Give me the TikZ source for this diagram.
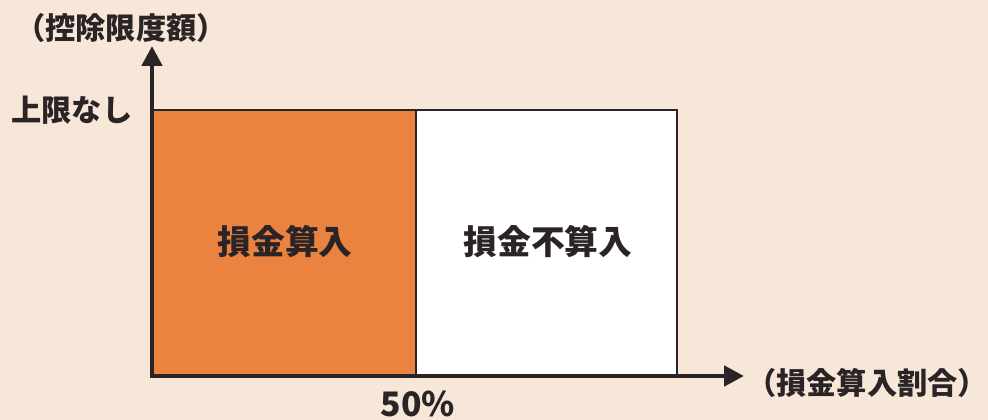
\documentclass[tikz,border=0pt]{standalone}
\usepackage{fontspec}
\setmainfont{Noto Sans CJK JP}
\newfontfamily\heavyfont{Noto Sans CJK JP Black}
\usetikzlibrary{arrows.meta}
\definecolor{bgbeige}{HTML}{F6E7D8}
\definecolor{sonkin}{HTML}{EA8240}
\definecolor{inkgray}{HTML}{2A2426}

\tikzset{
  axisline/.style={line width=3.4pt, draw=inkgray, line cap=rect,
    -{Triangle[width=0.5cm, length=0.5cm]}},
  areabox/.style={draw=inkgray, line width=1.3pt},
  bigtext/.style={text=inkgray, inner sep=0pt, font=\heavyfont\fontsize{21.5pt}{25pt}\selectfont}
}

\begin{document}
\begin{tikzpicture}[x=0.025cm, y=0.025cm]
        \useasboundingbox (0, 0) rectangle (988, 420);
        \fill[bgbeige] (0, 0) rectangle (988, 420);
        \coordinate (origin) at (152, 44);
        \coordinate (ytip) at (152, 374);
        \coordinate (xtip) at (744, 44);
        \coordinate (half) at (416, 310);
        \coordinate (top) at (677, 310);
        \draw[areabox, fill=sonkin] (origin) rectangle (half);
        \draw[areabox, fill=white] (416, 44) rectangle (top);
        \draw[axisline] (origin) -- (ytip);
        \draw[axisline] (origin) -- (xtip);
        \node[bigtext] (ylabel) at (121, 392) {（控除限度額）};
        \node[bigtext] (nolimit) at (72, 310) {上限なし};
        \node[bigtext, font=\heavyfont\fontsize{24pt}{28pt}\selectfont] (deductible) at (285, 178) {損金算入};
        \node[bigtext, font=\heavyfont\fontsize{24pt}{28pt}\selectfont] (nondeductible) at (548, 178) {損金不算入};
        \node[bigtext] (xlabel) at (867, 37) {（損金算入割合）};
        \node[bigtext, font=\heavyfont\fontsize{24pt}{28pt}\selectfont] (fifty) at (418, 16) {50\%};
    \end{tikzpicture}
\end{document}
